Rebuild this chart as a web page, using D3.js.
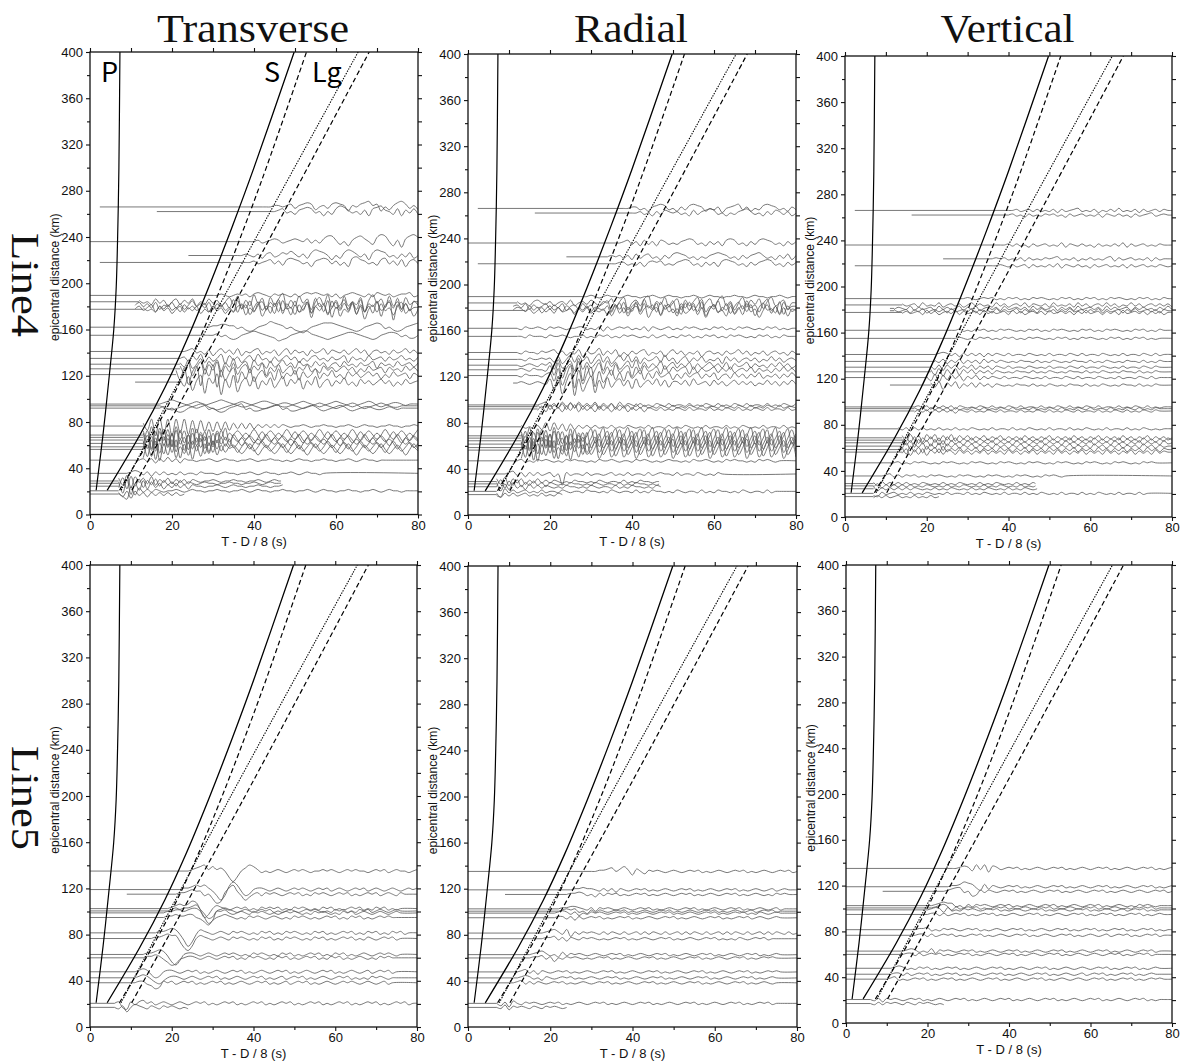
<!DOCTYPE html>
<html>
<head>
<meta charset="utf-8">
<script src="https://cdn.jsdelivr.net/npm/d3@7"></script>
<style>
  body { margin: 0; background: #fff; }
  svg { display: block; }
</style>
</head>
<body>
<svg id="chart" width="1183" height="1061"></svg>
<script>
// ---------------------------------------------------------------
// Record sections: reduced time T - D/8 (s) vs epicentral distance (km)
// ---------------------------------------------------------------
const components = ["Transverse", "Radial", "Vertical"];
const profiles = ["Line4", "Line5"];
const phaseLabels = ["P", "S", "Lg"];

const xMajorTicks = [0, 20, 40, 60, 80];
const xMinorTicks = [10, 30, 50, 70];
const yMajorTicks = [0, 40, 80, 120, 160, 200, 240, 280, 320, 360, 400];
const yMinorTicks = [20, 60, 100, 140, 180, 220, 260, 300, 340, 380];

// Travel-time curves [reduced time s, distance km]
const curveP   = [[1.5, 21], [3.2, 70], [4.7, 120], [5.8, 160], [6.4, 197], [6.8, 250], [7.05, 300], [7.3, 400]];
const curveS   = [[4.2, 21], [12.2, 69], [18.3, 110], [23.5, 150], [29.0, 197], [34.8, 250], [40.0, 300], [49.8, 400]];
const curveS2  = [[7.2, 21], [15.2, 69], [21.3, 110], [26.5, 150], [32.0, 197], [37.8, 250], [43.0, 300], [52.8, 400]];
const curveLg  = [[7.6, 21], [34, 197], [65.4, 400]];
const curveLg2 = [[10.2, 21], [37.5, 197], [68.1, 400]];

// Stations: [distance km, first time s, last time s]
const line4Stations = [
  [266, 2.4, 80], [262, 16.3, 80], [236, 0, 80], [224, 24, 80], [218, 2.4, 80],
  [189.5, 0, 80], [184, 0, 80], [181, 11, 80], [179, 11, 80], [177.5, 0, 80],
  [162, 0, 80], [155, 0, 80],
  [141, 0, 80], [135, 0, 80], [130, 0, 80], [126, 0, 80], [121, 0, 80], [114.5, 11, 80],
  [95.5, 0, 80], [94, 0, 80], [92, 0, 80],
  [76.5, 0, 80],
  [68.7, 0, 80], [66.7, 0, 80], [64.4, 0, 80], [61.5, 0, 80], [58.5, 0, 80], [56.3, 0, 80],
  [47, 0, 80], [35.6, 0, 80],
  [29, 0, 46.6], [27, 0, 46.6], [24.5, 0, 47],
  [20.5, 0, 80], [17.7, 0, 23]
];

const line5Stations = [
  [135, 0, 80], [119, 0, 80], [115, 9, 80],
  [102.5, 0, 80], [100.5, 0, 80], [98.8, 0, 80], [94.8, 0, 80],
  [81.5, 0, 80], [76.6, 0, 80],
  [62.8, 0, 80], [59.9, 0, 80],
  [47.8, 0, 80], [42.6, 0, 80], [38.3, 0, 80],
  [20.5, 0, 80], [17, 0, 24]
];

// Waveforms: [onset s, samples at 1 s]; '0'..'9' = 0..+9, 'a'..'i' = -1..-9
const line4Transverse = [
  [42, "00011012a1232b01a2321c1023412c0b1342a1b3"],
  [44, "0012a0b1232a0c0b2431a0b1c23410b2c1a2b1"],
  [38, "0001a0121a012102a1a2441b0c13420b3540c1d2453b0c2"],
  [36, "0010a1b12a02131a1b24320c0b2431a1c2432a0b1a2b"],
  [38, "001a012a1b2321a0c1232a1b0c3421a0b23a1b2c12a"],
  [30, "0010a0101a1210a1010a1a1212101a1b01210a1a2101a0112a01"],
  [12, "1a0b2a1c02b1a2c0b2a1c03b4e1c5a0f3b26d1c4a2h03b5d1e4c0b3g15a2d4c0e3b"],
  [11, "02a1b2c0a2b1c03a1b2c1a2b4e1b3d05c2a4f1b3e02c5a1g3b04d2c4e1a3h02b5c1d3"],
  [11, "a1b02c1a2b0c2a1b03c1a2b0c5a2e04b1d3c5a0e2b4d13c5g0b3a4e2c1d4b05i2c3b"],
  [13, "1a0b2a1c02b1a2c0b2a1c0b23d1b4e02c5a1d3b04f2a3c15e0b4c2g03b4a1d25c0e"],
  [28, "00112211a0bcb0124321a0bcdb012333210abcb01232a0bcb0123210aa"],
  [28, "0001a0bcb0123210abdcb0123310abcba012210abcb01221a0bb01"],
  [22, "0012a0b1c02a1b2c0a12b0a1c02b1a0c1a02b10a1b02a1c01a0b1a02a1b0"],
  [22, "01b2a3c1b03d2a1c02b3a0c1b02a1c0b12a0b1a02c1a0b2a01b1a02a0b1a"],
  [22, "1b3c04d2a3e1b4c02d3a1c2b03a1c2a0b2a1c01b2a0b1a02c1a0b2a01b1a"],
  [22, "2c4e15d3a5f2b4d13c2a4e1b3c02d1a3b0c2a1b02a1c0b2a01c1a0b2a1b0"],
  [21, "3d5g26h4a7i3d15f2c4e03b2d4c1a3d2b04c1a3b0c2a1b02a1c0b2a01c1a0b"],
  [22, "2c4f15h3a6i2d5g03c4e1b3d04c2a3e1b4d02c1a3b0c2a1b02a1c0b2a01c"],
  [17, "0123210abcba0123210abba012210abba01210aba01210aba0121aba0110a"],
  [17, "0abcba012321abcba0123210abba012210aba01210aba0121aba01210aa0"],
  [17, "01a0bcb01232a0bcb0123a0bba0122a0bba0121aba0121aba0110aa010a0"],
  [13, "2c5g6f5g5e5f4e4d3d3c3c2b2b2b1a1a1a10a0010a00100a0010a0100a00100a0010a"],
  [13, "3e6g5d4h6c3f5e2d4g3b5e030c040d030c040c030d040c030c040d030c040c030d04"],
  [13, "e5h4c6f3g5d2e6c4f3d5b30c030d040c030c040d030c040c030d040c030c040d030c"],
  [13, "5f3h6d4e7c2g5d4f3e5c2d40d030c040c030d040c030c040d030c040c030d040c030"],
  [13, "d6e4g5c7f3e6d4c5f2d4b3c040d030c040c030d040c030c040d030c040c030d040c0"],
  [13, "4g5i3e6d5h2f4c6e3d5c2a0d030c040c030d040c030c040d030c040c030d040c030c"],
  [13, "f3e6h4d7f2c5g3e4c6d3b230c040d030c040c030d040c030c040d030c040c030d040"],
  [12, "01a1b1a2a1b100a0010a0100a0010a00100a0a0100a00100a0010a0100a0"],
  [9,  "0121a1b1a1a0a1a00a1000a0100a0010a0100a0010a0100a"],
  [7,  "2c4e3a2b3c1a2b1a1b10a0010a00100a0010a0100a00100"],
  [7,  "c4d5b3c2a3b2a1b2a10a0100a00100a0010a0100a00100a"],
  [7,  "3e5f2c4b3a2b1a2a1b100a0010a0100a00100a0010a0100"],
  [7,  "bdf3c2a1a10a0010a0100a00100a0010a0100a00100a0010a0100a00100a0010a0100a0"],
  [7,  "1b2c2a1b1a1a1a1a"]
];

const line4Radial = [
  [38, "0011a0b1232a0b1a2321b0a1c0123a1b0a2321a0b1a"],
  [40, "001a0b1a2101a0b2a1232a0b0a1231a0b1a21a1b"],
  [36, "0012a1b2a1b21a0a1232a0b1a1b232a0b1a2321a0b1a12"],
  [34, "0101a1b2a12a0b1a2321a0b0a12321a0b1a1231a0b1a2b1"],
  [35, "0011a0a1b1212a0a1232a0b1a1b2321a0b1a1232a0b1a1"],
  [28, "0010a0100a0100a0010a0100a0010a0100a00100a0100a0010a0"],
  [12, "1a0b120a1b01a2b01a20b103c14e02b35d1a4c03e2b14d03c25b1e04c2a3d14b02e"],
  [11, "01a2b1a02b1a2c01b2a1c024d1b3e02c5a1d3b04e2a3c15d0b4c2e03b4a1d25c0e3b"],
  [11, "a10b2a1c02a1b20c1a2b10a2e04c1b5d02a4e13c0d4a2b5e03c1a4d02b3e14a0c5d2b"],
  [14, "a1b02a1b2a01c1a2b0a1c04b2d13a5e02c4a1d3b05c2e14a0d3b2c5a1e04b3c2d1"],
  [12, "0a10010a1010a0011a0a1b1a0101a0a1b10a01a0a1010a0a101a0a1010a0a101a0a"],
  [12, "00a1000a10010a001a0a101a0a1010a0a1a01a0a101a0a101a0a1010a0a101a0a10"],
  [12, "0a100a1012a1b0a2c1a03b1a2c0b1a12b0a1c02a1b0a1c01a0b1a02a1b0a1b01a0b1a2a"],
  [12, "00a100101b2c03b3a2c14b2c03a3b2c1a02b3a1c02b1a2b0a1c2a1b01a1b0a2a1b01a"],
  [12, "0a010a102c4b03d5c2b14d3a2c03b4c2b1a3c02b1a2c1b02a1b2c1a02b1a0b1a2a1b0"],
  [12, "010a100a3d5f14c6h3e05c2d4b13e2c3a02c3b2a12c2b1a02b1a2b01a2b1a0b1a2a1b"],
  [12, "0a1000a12d5g07i4f16h3e04c2d3b14c2b3a02c1b2a12b1a2c01b2a1b1a2b0a1b1a2a"],
  [12, "010a010a3e5h17i3f05g2d4c13b2d3c02a3b2c11a2b3a01b2a1b02a1a1b0a2a1b1a2a"],
  [17, "012a1b2a1b2a1a2b1a1b2a10a1a0a10a1a00a1a0a10a1a0a10a1a00a1a0a10a1a"],
  [17, "1a2b1a2b3a2b1a2b1a2b1a1b2a1a0a10a1a0a10a1a00a1a0a10a1a0a10a1a00a1"],
  [17, "a2b3a1b2a3b2a1b2a1b1a2b1a1b10a1a0a10a1a00a1a0a10a1a0a10a1a00a1a0"],
  [13, "1a0a1b3c3b2c2b1a1a1a0a1a0a10a0a1a00a1a0a10a0a1a00a1a0a10a0a1a00a1a0a10a"],
  [13, "3e6g5d4h6c3f5e2d05e06f05e06e05f06e05e06f05e06e05f06e05e06f05e06e05f06e0"],
  [13, "e5h4c6f3g5d2e6c4e06f05e06e05f06e05e06f05e06e05f06e05e06f05e06e05f06e05"],
  [13, "5f3h6d4e7c2g5d4f6e05e06f05e06e05f06e05e06f05e06e05f06e05e06f05e06e05f0"],
  [13, "d6e4g5c7f3e6d4c5f05f06e05e06f05e06e05f06e05e06f05e06e05f06e05e06f05e06"],
  [13, "4g5i3e6d5h2f4c6e3e06e05f06e05e06f05e06e05f06e05e06f05e06e05f06e05e06f0"],
  [13, "f3e6h4d7f2c5g3e4c06f05e06e05f06e05e06f05e06e05f06e05e06f05e06e05f06e05"],
  [12, "01a0a1010a0a10100a0a10010a00a1010a0a0100a0a10010a0a10100a0a1010a"],
  [9,  "012a1b1a1a01b0h1a00a1a00a01a0a1a00a1a0100a1a00a10a0a1"],
  [7,  "2b3c2a2b1a2a1a10a0a100a0a10a00a1a0a100a0a10a00"],
  [7,  "b3c2a3b1a2a1b10a0a100a0a10a00a1a0a100a0a10a0a1"],
  [7,  "3c2b3a1b2a1a10a0a100a0a10a00a1a0a100a0a10a00a1"],
  [7,  "cd2a1a01a0a1a00a10a00a100a0a10a00a1a0a100a0a10a00a1a0a100a0a10a00a1a0"],
  [7,  "1b1a1a01a0a1a0a1"]
];

const line4Vertical = [
  [40, "001a01a1a0a1b1a012a0a1b0a1a2a0a1b1a01a1"],
  [40, "01a0b1a0a101a0b1a01a0a1b10a1a0b1a012a01"],
  [38, "001a1a0b1a01a0a2b10a1a0b1a0a1a2b1a01a0a1"],
  [36, "0101a0a1b1a0a1012a0a1b0a1a0a12b1a01a0a1b1a0"],
  [36, "0010a1a01b1a0a1a2b10a1a0b1a01a0a1b1a01a0a10a"],
  [28, "0010a0101a0a101a0a1010a0a101a0a101a0a1010a0a101a0a10"],
  [14, "1a01b2a0a2b01a1b02a1a0b2a1b01a2b10a1b2a0a1b2a1b01a2a1b0a2a1b01a1a1b"],
  [12, "a10a2b1a01b2a1a02b1a2b01a1b2a01a1b2a1a02b1a1b2a01a1b2a1a01b1a1a0b1a2a"],
  [12, "1a01b1a2b01a1b2a01a2b1a0b2a1a02b1a1b20a1b1a2a01b1a2b1a01b1a2a01a1b1"],
  [14, "a1a01b2a1b01a2b1a01b2a1a01b2a1b01a1b2a01a1b1a2a01b1a1b2a01a1b1a1b"],
  [26, "001a0a101a0a1010a0a101a0a1010a0a101a0a1010a0a101a0a10"],
  [26, "0010a0a101a0a101a0a1010a0a101a0a1010a0a101a0a101a0a"],
  [22, "0121a1b1a1a1b1a10a1a00a10a0a1a00a10a1a00a10a0a1a00a10a1a"],
  [22, "1a2b1a2b1a1b2a1a10a0a100a1a0a10a0a100a1a0a10a0a100a1a0a1"],
  [21, "1b2c2a2b1a2b1a1b10a1a00a10a0a1a00a10a1a00a10a0a1a00a10a1"],
  [21, "2c3d2b3c2a2b1a1b10a0a100a1a0a10a0a100a1a0a10a0a100a1a0a1"],
  [20, "1c3d2b3a2c1a2b1a10a1a00a10a0a1a00a10a1a00a10a0a1a00a10a1a0"],
  [21, "2b3d2a3c1a2b2a1b10a0a100a1a0a10a0a100a1a0a10a0a100a1a0a1"],
  [17, "01a1b1a1a1b10a0a10a1a0a10a1a00a1a0a10a1a0a10a1a00a1a0a10a1a0a"],
  [17, "1a1b1a1a1b1a0a10a1a0a10a1a00a1a0a10a1a0a10a1a00a1a0a10a1a0a10"],
  [17, "a1a1b1a1a1b10a1a0a10a1a00a1a0a10a1a0a10a1a00a1a0a10a1a0a10a1"],
  [13, "1a1b1a1a0a1a0a1a0a10a0a1a00a1a0a10a0a1a00a1a0a10a0a1a00a1a0a10a0a"],
  [14, "2c3b2d3a3c2b3c2a2b1a2b1a2b1a1b2a1b1a2b1a1b2a1b1a2b1a1b2a1b1a2b1a1b"],
  [14, "c2b3c2a3b2d3a2b1a2b1a1b2a1b1a2b1a1b2a1b1a2b1a1b2a1b1a2b1a1b2a1b1a2"],
  [14, "3b2d3a2c3b2c2a1b2a1b1a2b1a1b2a1b1a2b1a1b2a1b1a2b1a1b2a1b1a2b1a1b2a"],
  [14, "b3c2a3c2b3d2a2b1a2b1a1b2a1b1a2b1a1b2a1b1a2b1a1b2a1b1a2b1a1b2a1b1a"],
  [14, "2d3b2c3a2c3b1a2b1a2b1a1b2a1b1a2b1a1b2a1b1a2b1a1b2a1b1a2b1a1b2a1b1"],
  [14, "a3c2b3c2a3b21b2a1b1a2b1a1b2a1b1a2b1a1b2a1b1a2b1a1b2a1b1a2b1a1b2a1"],
  [12, "01a0a1010a0a1010a0a1010a0a1010a0a1010a0a1010a0a1010a0a1010a0a101"],
  [9,  "012a1a101a0a1010a0a1010a0a1010a0a1010a0a1010a"],
  [7,  "1b2a1a1a1a0a10a0a1a0a10a0a1a0a10a0a1a0a10"],
  [7,  "a2b1a1a1a1a0a10a0a1a0a10a0a1a0a10a0a1a0a1"],
  [7,  "2b1a1a1a1a10a0a1a0a10a0a1a0a10a0a1a0a10a0"],
  [7,  "bc1a01a0a1a0a10a0a1a00a1a0a10a0a1a00a1a0a10a0a1a00a1a0a10a0a1a00a1a"],
  [7,  "a1a1a01a0a1a0a1a"]
];

const line5Transverse = [
  [24, "0123413120dgd02431a0a010a01010a001010a010100a0101a0100a0101"],
  [22, "01123231adgd253adc0110a010a01010a0101a010a0101a010a010a0101"],
  [21, "0112322a0cfe1462adb01a1010a0101a0a1010a0101a0a0101a010a10"],
  [19, "01232354afd0210a0101a0a10101a0a1010a0a101a0a0101a0a101a0a"],
  [19, "012122341bed01210a010a0101a0a010a01010a0a101a0a101a010a01"],
  [18, "0112212331cge1120a010a1010a0a01010a0a1010a0a101a010a010a01"],
  [18, "011211220aceb01210a0a1010a010a0a1010a0a0101a0a101a0a01010"],
  [16, "011232aeifa210a010a1010a0a101a0a1010a0a101a0a0101a0a101a0a101a"],
  [15, "0112322bfhe0210a010a1010a0a101a0a1010a0a101a0a0101a0a10a0101a"],
  [13, "011232aegd0110a010a01010a0a1010a0a101a0a0101a0a101a0a010a01010a"],
  [13, "01121aceda0110a010a0101a0a1010a0a101a0a0101a0a101a0a010a0a1010"],
  [11, "0121bdc0110a0101a0a010a0101a0a010a0101a0a010a0101a0a010a01a0101a"],
  [11, "0121acdb0110a010a0101a0a010a0101a0a01a0101a0a010a0101a0a0a1010a0"],
  [11, "011abdc101a0101a0a0101a0a010a0101a0a01a0101a0a010a01010a010a01a"],
  [6,  "01cd1a1201a010a010a0101a0a0101a0a0101a0a0101a0a0101a0a0101a0a0101a0a0101a0"],
  [6,  "0a1c0210a10a1010a0a1"]
];

const line5Radial = [
  [30, "0011230241c20b1010a010a0101a0a010a0101a0a010a0101a0a"],
  [25, "0112110a1a1b10a0101a0a010a0101a0a010a0101a0a010a01a010"],
  [24, "01121a0b1a101a0a0101a0a010a0101a0a010a0101a0a010a0a101"],
  [22, "0112210a1b1010a010a0101a0a010a0101a0a010a0101a0a010a01a0"],
  [22, "01212a0b1a10a0101a0a010a0101a0a010a0101a0a010a01a0101a0"],
  [21, "0121a1b0a1010a0101a0a010a0101a0a010a0101a0a0101a0a10a010"],
  [21, "011a1b1a0101a0a0101a0a010a0101a0a010a0101a0a0101a010a01"],
  [18, "01231a3c1a1010a1a10a1a01a1a10a1a01a1a10a1a01a1a10a1a01a1a10a1a"],
  [18, "0112a1b10a1010a0a0101a0a010a0101a0a010a0101a0a0a10a0101a0"],
  [15, "01231a0b2a1010a010a0101a0a010a0101a0a010a0101a0a010a0101a0a01"],
  [15, "0112a1c0a1010a0a0101a0a010a0101a0a010a0101a0a010a0101a0a0101"],
  [12, "012a1b10a0101a0a010a0101a0a010a0101a0a010a0101a0a010a0101a0a0101"],
  [12, "0121a0b10a0101a0a010a0101a0a010a0101a0a010a0101a0a010a0101a0a01"],
  [11, "012a1a10a0101a0a010a0101a0a010a0101a0a010a0101a0a010a0101a0a010a"],
  [7,  "0b1c20a1010a0101a0a010a0101a0a010a0101a0a010a0101a0a010a0101a0a0101a0"],
  [7,  "0a2b1010a10a1010a0a1"]
];

const line5Vertical = [
  [26, "00121b3a3c21a0101a0a010a0101a0a010a0101a0a010a0101a0a01"],
  [25, "0112432ac2b10a0101a0a010a0101a0a010a0101a0a010a0101a0a01"],
  [24, "01233a0dc1a10a0101a0a010a0101a0a010a0101a0a010a010a0101a"],
  [21, "012322a0b1a1010a0101a0a010a0101a0a010a0101a0a010a0a1010a0"],
  [21, "01231b1a0101a0a0101a0a010a0101a0a010a0101a0a010a0a10101a0"],
  [20, "0121b2a0a1010a0101a0a010a0101a0a010a0101a0a010a01a0101a0a0"],
  [20, "011a1a0101a0a0101a0a010a0101a0a010a0101a0a0101a0a0101a0a01"],
  [17, "0112a0a1010a0101a0a010a0101a0a010a0101a0a0101a0a0101a0a0101a0a"],
  [17, "011a1a0101a0a0101a0a010a0101a0a010a0101a0a010a01a0101a0a0101a"],
  [14, "0121a0a2b1010a0101a0a010a0101a0a010a0101a0a010a0101a0a010a0101a"],
  [14, "011a1a0101a0a0101a0a010a0101a0a010a0101a0a010a010a0101a0a0101a0"],
  [11, "0121a0a101a0a0101a0a010a0101a0a010a0101a0a010a010a0101a0a0101a0a01"],
  [11, "011a1a0101a0a0101a0a010a0101a0a010a0101a0a010a01a0101a0a0101a0a010"],
  [10, "012a0a0101a0a0101a0a010a0101a0a010a0101a0a010a010a0101a0a0101a0a0101"],
  [6,  "0a1b1010a0101a0a010a0101a0a010a0101a0a010a0101a0a010a0101a0a010a0101a0a0"],
  [6,  "0a1a1010a10a1010a0a1"]
];

// ---------------------------------------------------------------
// Layout of the six plot boxes (left, right, bottom, top in px)
// ---------------------------------------------------------------
const boxes = [
  { x0: 90,  x1: 418,  y0: 514.5, y1: 52 },
  { x0: 468, x1: 796,  y0: 515,   y1: 54 },
  { x0: 845, x1: 1172, y0: 517,   y1: 56 },
  { x0: 90,  x1: 417,  y0: 1027,  y1: 565 },
  { x0: 468, x1: 797,  y0: 1027,  y1: 566 },
  { x0: 846, x1: 1172, y0: 1023,  y1: 565 }
];

const panelData = [
  { stations: line4Stations, traces: line4Transverse, gain: 1.4 },
  { stations: line4Stations, traces: line4Radial,     gain: 1.4 },
  { stations: line4Stations, traces: line4Vertical,   gain: 1.1 },
  { stations: line5Stations, traces: line5Transverse, gain: 1.5 },
  { stations: line5Stations, traces: line5Radial,     gain: 1.2 },
  { stations: line5Stations, traces: line5Vertical,   gain: 1.2 }
];

const curveDefs = [
  { pts: curveP,   dash: null,      width: 1.2 },
  { pts: curveS,   dash: null,      width: 1.3 },
  { pts: curveS2,  dash: "5,3",     width: 1.2 },
  { pts: curveLg,  dash: "1.4,1.3", width: 1.1 },
  { pts: curveLg2, dash: "5,3",     width: 1.2 }
];

const sansFont = "'Liberation Sans', Arial, sans-serif";
const serifFont = "'Liberation Serif', 'Times New Roman', serif";

const svg = d3.select("#chart");
svg.append("rect").attr("width", 1183).attr("height", 1061).attr("fill", "#fff");

function decodeWave(str) {
  return Array.from(str).map(c => (c >= "0" && c <= "9") ? +c : -(c.charCodeAt(0) - 96));
}

// flat lead-in before the onset, then the sampled waveform
function traceParts(station, trace) {
  const [km, t0, t1] = station;
  const [onset, str] = trace;
  const vals = decodeWave(str);
  const flat = t0 < onset ? [[t0, 0], [onset, 0]] : null;
  const wave = [];
  for (let i = 0; i < vals.length; i++) {
    const t = onset + i;
    if (t < t0) continue;
    if (t > t1) break;
    wave.push([t, vals[i]]);
  }
  const last = wave.length ? wave[wave.length - 1][0] : onset;
  if (last < t1) {
    if (last < t1 - 1) wave.push([last + 1, 0]);
    wave.push([t1, 0]);
  }
  return { km, flat, wave };
}

boxes.forEach((b, p) => {
  const x = d3.scaleLinear().domain([0, 80]).range([b.x0, b.x1]);
  const y = d3.scaleLinear().domain([0, 400]).range([b.y0, b.y1]);
  const data = panelData[p];
  const g = svg.append("g");

  const clipId = "clip" + p;
  svg.append("clipPath").attr("id", clipId)
    .append("rect")
    .attr("x", b.x0).attr("y", b.y1)
    .attr("width", b.x1 - b.x0).attr("height", b.y0 - b.y1);

  // seismogram traces
  const traceGroup = g.append("g").attr("clip-path", `url(#${clipId})`)
    .attr("fill", "none").attr("stroke", "#555").attr("stroke-width", 0.8)
    .attr("stroke-linejoin", "round");
  data.stations.forEach((st, i) => {
    const tr = traceParts(st, data.traces[i]);
    const yOf = d => y(tr.km) - d[1] * data.gain;
    if (tr.flat) {
      traceGroup.append("path").attr("d", d3.line().x(d => x(d[0])).y(yOf)(tr.flat));
    }
    const line = d3.line().x(d => x(d[0])).y(yOf).curve(d3.curveCatmullRom.alpha(0.5));
    traceGroup.append("path").attr("d", line(tr.wave));
  });

  // travel-time curves
  const curveGroup = g.append("g").attr("clip-path", `url(#${clipId})`);
  curveDefs.forEach(cd => {
    const line = d3.line().x(d => x(d[0])).y(d => y(d[1])).curve(d3.curveCatmullRom.alpha(0.5));
    curveGroup.append("path")
      .attr("d", line(cd.pts))
      .attr("fill", "none")
      .attr("stroke", "#000")
      .attr("stroke-width", cd.width)
      .attr("stroke-dasharray", cd.dash);
  });

  // frame
  g.append("rect")
    .attr("x", b.x0).attr("y", b.y1)
    .attr("width", b.x1 - b.x0).attr("height", b.y0 - b.y1)
    .attr("fill", "none").attr("stroke", "#111").attr("stroke-width", 1.3);

  // axes
  const styleAxis = sel => {
    sel.select(".domain").remove();
    sel.selectAll(".tick line").attr("stroke", "#111").attr("stroke-width", 1.1);
    sel.selectAll(".tick text")
      .attr("fill", "#111")
      .style("font-family", sansFont)
      .style("font-size", "13px");
  };
  g.append("g").attr("transform", `translate(0,${b.y0})`)
    .call(d3.axisBottom(x).tickValues(xMajorTicks).tickSize(4).tickPadding(2).tickSizeOuter(0).tickFormat(d3.format("d")))
    .call(styleAxis);
  g.append("g").attr("transform", `translate(0,${b.y0})`)
    .call(d3.axisBottom(x).tickValues(xMinorTicks).tickSize(3).tickSizeOuter(0).tickFormat(""))
    .call(styleAxis);
  g.append("g").attr("transform", `translate(0,${b.y1})`)
    .call(d3.axisTop(x).tickValues(xMajorTicks.concat(xMinorTicks)).tickSize(4).tickSizeOuter(0).tickFormat(""))
    .call(styleAxis);
  g.append("g").attr("transform", `translate(${b.x0},0)`)
    .call(d3.axisLeft(y).tickValues(yMajorTicks).tickSize(4).tickPadding(3).tickSizeOuter(0).tickFormat(d3.format("d")))
    .call(styleAxis);
  g.append("g").attr("transform", `translate(${b.x0},0)`)
    .call(d3.axisLeft(y).tickValues(yMinorTicks).tickSize(3).tickSizeOuter(0).tickFormat(""))
    .call(styleAxis);
  g.append("g").attr("transform", `translate(${b.x1},0)`)
    .call(d3.axisRight(y).tickValues(yMajorTicks.concat(yMinorTicks)).tickSize(4).tickSizeOuter(0).tickFormat(""))
    .call(styleAxis);

  // axis titles
  g.append("text")
    .attr("x", (b.x0 + b.x1) / 2).attr("y", b.y0 + 31)
    .attr("text-anchor", "middle")
    .style("font-family", sansFont).style("font-size", "13px").attr("fill", "#111")
    .text("T - D / 8 (s)");
  const ly = (b.y0 + b.y1) / 2 - 6;
  g.append("text")
    .attr("transform", `translate(${b.x0 - 31},${ly}) rotate(-90)`)
    .attr("text-anchor", "middle")
    .style("font-family", sansFont).style("font-size", "12px").attr("fill", "#111")
    .text("epicentral distance (km)");
});

// column titles
const titleWidths = [192, 114, 134];
components.forEach((c, i) => {
  const b = boxes[i];
  svg.append("text")
    .attr("x", (b.x0 + b.x1) / 2 - 1).attr("y", 42)
    .attr("text-anchor", "middle")
    .attr("textLength", titleWidths[i]).attr("lengthAdjust", "spacingAndGlyphs")
    .style("font-family", serifFont).style("font-size", "40px").attr("fill", "#111")
    .text(c);
});

// row labels
const rowCenters = [285, 798];
profiles.forEach((r, i) => {
  svg.append("text")
    .attr("transform", `translate(12,${rowCenters[i]}) rotate(90)`)
    .attr("text-anchor", "middle")
    .attr("textLength", 104).attr("lengthAdjust", "spacingAndGlyphs")
    .style("font-family", serifFont).style("font-size", "40px").attr("fill", "#111")
    .text(r);
});

// phase labels in the first panel
const phaseX = [101, 264, 312];
phaseLabels.forEach((t, i) => {
  svg.append("text")
    .attr("x", phaseX[i]).attr("y", 82)
    .style("font-family", "'Noto Sans CJK JP', 'Noto Sans', sans-serif")
    .style("font-size", "27px").attr("fill", "#000")
    .text(t);
});
</script>
</body>
</html>
